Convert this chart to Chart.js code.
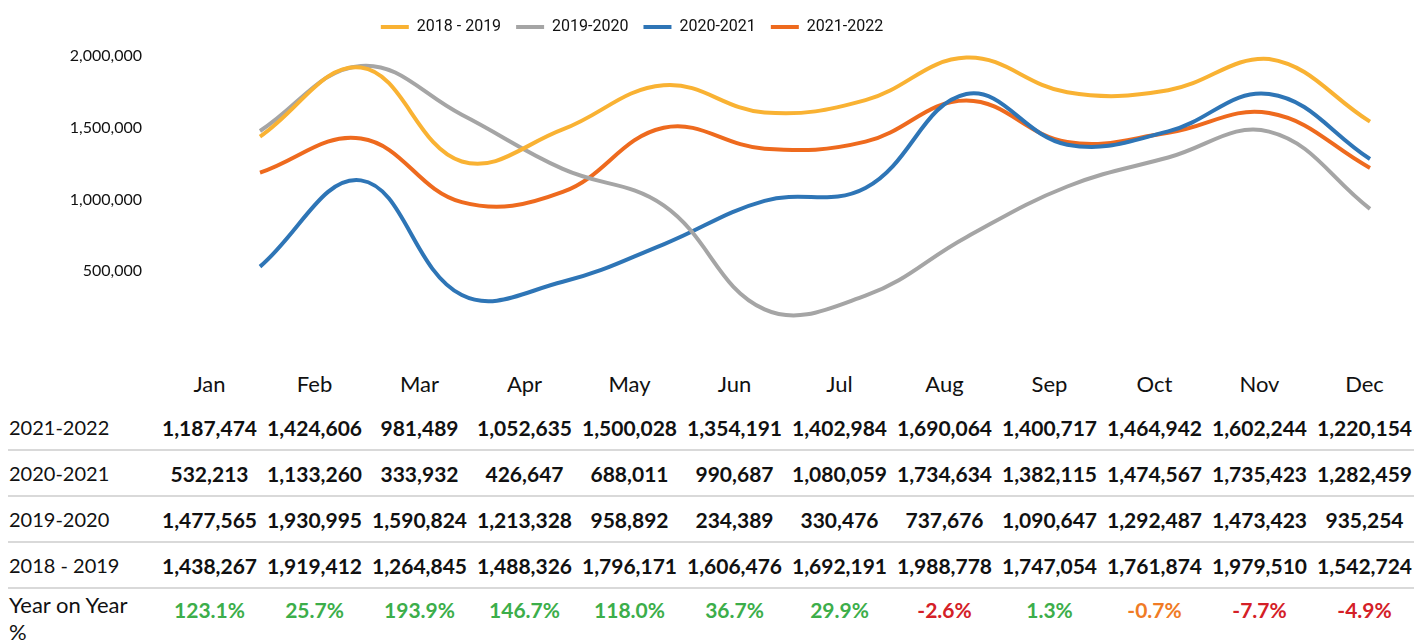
<!DOCTYPE html>
<html>
<head>
<meta charset="utf-8">
<script src="https://cdn.jsdelivr.net/npm/chart.js@4/dist/chart.umd.min.js"></script>
<style>
  body { margin: 0; background: #fff; width: 1414px; height: 644px; overflow: hidden; font-family: Lato, sans-serif; }
  #wrap { position: relative; width: 1414px; height: 360px; }
  table { border-collapse: separate; border-spacing: 0; table-layout: fixed; width: 1406px; position: absolute; top: 361px; left: 8px; }
  td, th { padding: 0; text-align: center; white-space: nowrap; }
  th { font-weight: normal; font-size: 22px; height: 44px; color: #111; }
  td { font-weight: bold; font-size: 21px; color: #111; height: 44px; }
  td.lbl { text-align: left; font-weight: normal; font-size: 20px; padding-left: 1px; }
  tr.sep td { border-bottom: 2px solid #d9d9d9; }
  tr.yoy td { height: 54px; vertical-align: top; padding-top: 8px; }
  tr.yoy td.lbl { line-height: 27px; padding-top: 2px; font-size: 22px; }
</style>
</head>
<body>
<div id="wrap"><canvas id="grafico" width="1414" height="360"></canvas></div>
<table id="tabela"></table>
<script>
const months = ['Jan', 'Feb', 'Mar', 'Apr', 'May', 'Jun', 'Jul', 'Aug', 'Sep', 'Oct', 'Nov', 'Dec'];
const s2018 = [1438267, 1919412, 1264845, 1488326, 1796171, 1606476, 1692191, 1988778, 1747054, 1761874, 1979510, 1542724];
const s2019 = [1477565, 1930995, 1590824, 1213328, 958892, 234389, 330476, 737676, 1090647, 1292487, 1473423, 935254];
const s2020 = [532213, 1133260, 333932, 426647, 688011, 990687, 1080059, 1734634, 1382115, 1474567, 1735423, 1282459];
const s2021 = [1187474, 1424606, 981489, 1052635, 1500028, 1354191, 1402984, 1690064, 1400717, 1464942, 1602244, 1220154];
const yoy = ['123.1%', '25.7%', '193.9%', '146.7%', '118.0%', '36.7%', '29.9%', '-2.6%', '1.3%', '-0.7%', '-7.7%', '-4.9%'];
const yoyColors = ['#3cae4a', '#3cae4a', '#3cae4a', '#3cae4a', '#3cae4a', '#3cae4a', '#3cae4a', '#d42027', '#3cae4a', '#f07b25', '#d42027', '#d42027'];
const yTicks = [0, 500000, 1000000, 1500000, 2000000];

const fmt = v => v.toLocaleString('en-US');

function serie(label, data, color) {
  return {
    label: label,
    data: data,
    borderColor: color,
    backgroundColor: color,
    borderWidth: 4,
    tension: 0.4,
    pointRadius: 0,
    fill: false
  };
}

// legenda um pouco mais para cima e para a esquerda, como no original
const moveLegenda = {
  id: 'moveLegenda',
  afterLayout(chart) {
    const lg = chart.legend;
    lg.right -= 106;
    lg.top -= 11;
    lg.bottom -= 11;
  }
};

const grafico = document.getElementById('grafico');

new Chart(grafico, {
  type: 'line',
  data: {
    labels: months,
    datasets: [
      serie('2018 - 2019', s2018, '#f9b233'),
      serie('2019-2020', s2019, '#a5a5a5'),
      serie('2020-2021', s2020, '#2e75b6'),
      serie('2021-2022', s2021, '#ee6a1e')
    ]
  },
  plugins: [moveLegenda],
  options: {
    responsive: false,
    animation: false,
    clip: false,
    layout: {
      padding: { top: 15, right: 44, bottom: 17, left: 0 }
    },
    plugins: {
      legend: {
        display: true,
        labels: {
          boxWidth: 28,
          boxHeight: 4,
          padding: 15,
          color: '#111',
          font: { family: 'Roboto', size: 16 },
          generateLabels: chart => Chart.defaults.plugins.legend.labels.generateLabels(chart).map(it => {
            it.lineWidth = 0;
            return it;
          })
        }
      },
      tooltip: { enabled: false }
    },
    scales: {
      x: {
        display: false,
        offset: false
      },
      y: {
        min: 0,
        max: 2000000,
        border: { display: false },
        grid: { display: false, drawTicks: true, tickLength: 118 },
        afterFit: scale => { scale.width = 260; },
        afterBuildTicks: scale => { scale.ticks = yTicks.map(v => ({ value: v })); },
        ticks: {
          padding: 0,
          color: '#111',
          font: { family: 'Lato', size: 16 },
          callback: v => v === 0 ? '' : fmt(v)
        }
      }
    }
  }
});

// tabela de valores por mes
const tabela = document.getElementById('tabela');
let html = '<colgroup><col style="width:149px">' + months.map(() => '<col style="width:105px">').join('') + '</colgroup>';
html += '<tr><th></th>' + months.map(m => '<th>' + m + '</th>').join('') + '</tr>';
const rows = [['2021-2022', s2021], ['2020-2021', s2020], ['2019-2020', s2019], ['2018 - 2019', s2018]];
rows.forEach(r => {
  html += '<tr class="sep"><td class="lbl">' + r[0] + '</td>' + r[1].map(v => '<td>' + fmt(v) + '</td>').join('') + '</tr>';
});
html += '<tr class="yoy"><td class="lbl">Year on Year<br>%</td>' + yoy.map((v, i) => '<td style="color:' + yoyColors[i] + '">' + v + '</td>').join('') + '</tr>';
tabela.innerHTML = html;
</script>
</body>
</html>
